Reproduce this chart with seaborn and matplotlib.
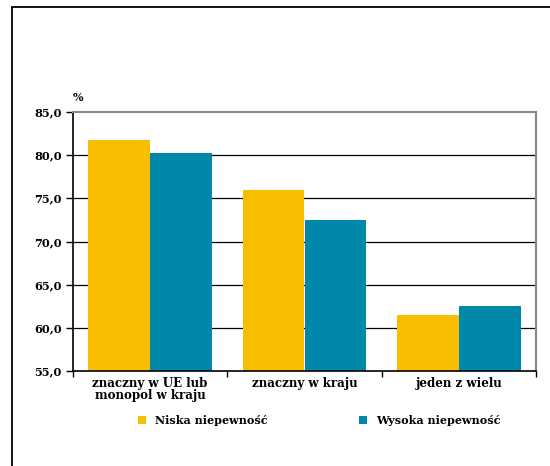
import matplotlib
matplotlib.use("Agg")
import matplotlib.pyplot as plt
import seaborn as sns
import pandas as pd
from matplotlib.lines import Line2D

categories = ["znaczny w UE lub\nmonopol w kraju", "znaczny w kraju", "jeden z wielu"]
series = ["Niska niepewność", "Wysoka niepewność"]
niska = [81.8, 76.0, 61.5]
wysoka = [80.2, 72.5, 62.5]
yticks = [55.0, 60.0, 65.0, 70.0, 75.0, 80.0, 85.0]
colors = ["#FABE00", "#0088AA"]

df = pd.DataFrame({
    "kategoria": categories * 2,
    "seria": [series[0]] * 3 + [series[1]] * 3,
    "wartosc": niska + wysoka,
})

sns.set_theme(style="white")
plt.rcParams["font.family"] = ["DejaVu Serif"]
plt.rcParams["font.weight"] = "bold"
plt.rcParams["text.color"] = "black"
plt.rcParams["xtick.color"] = "black"
plt.rcParams["ytick.color"] = "black"

fig = plt.figure(figsize=(5.5, 4.66), dpi=100)
ax = fig.add_axes([73 / 550, 1 - 371 / 466, (536 - 73) / 550, (371 - 112) / 466])

sns.barplot(data=df, x="kategoria", y="wartosc", hue="seria", order=categories,
            hue_order=series, palette=colors, width=0.8, saturation=1,
            ax=ax, legend=False, linewidth=0)

ax.set_ylim(55, 85)
ax.set_xlim(-0.5, 2.5)
ax.set_yticks(yticks)
ax.set_yticklabels([f"{v:.1f}".replace(".", ",") for v in yticks], fontsize=8.2, fontweight="bold")
for v in yticks[1:-1]:
    ax.axhline(v, color="black", linewidth=0.9, zorder=0)

ax.set_xticks([0, 1, 2])
ax.set_xticklabels(categories, fontsize=8.6, fontweight="bold", linespacing=0.95)
ax.set_xticks([-0.5, 0.5, 1.5, 2.5], minor=True)
ax.tick_params(axis="x", which="major", length=0, pad=4)
ax.tick_params(axis="x", which="minor", length=4, width=1, color="black", direction="out", bottom=True)
ax.tick_params(axis="y", length=5, width=1, color="black", direction="out", left=True, pad=3)
ax.set_xlabel("")
ax.set_ylabel("")

for side in ["left", "bottom"]:
    ax.spines[side].set_color("black")
    ax.spines[side].set_linewidth(1.2)
for side in ["top", "right"]:
    ax.spines[side].set_color("#888888")
    ax.spines[side].set_linewidth(1.5)

ax.text(0.0, 1.035, "%", transform=ax.transAxes, fontsize=8, fontweight="bold", ha="left", va="bottom")

handles = [Line2D([], [], marker="s", linestyle="none", markersize=6,
                  markerfacecolor=c, markeredgewidth=0) for c in colors]
fig.legend(handles, series, loc="center", bbox_to_anchor=(316 / 550, 1 - 420 / 466),
           ncol=2, frameon=False, columnspacing=7.6, handletextpad=0.15,
           prop={"size": 8, "weight": "bold"})

# outer frame
fig.add_artist(Line2D([12 / 550, 12 / 550], [0, 1 - 7 / 466], transform=fig.transFigure,
                      color="black", linewidth=1.3))
fig.add_artist(Line2D([12 / 550, 1], [1 - 7 / 466, 1 - 7 / 466], transform=fig.transFigure,
                      color="black", linewidth=1.3))

fig.savefig("out.png", dpi=100)
